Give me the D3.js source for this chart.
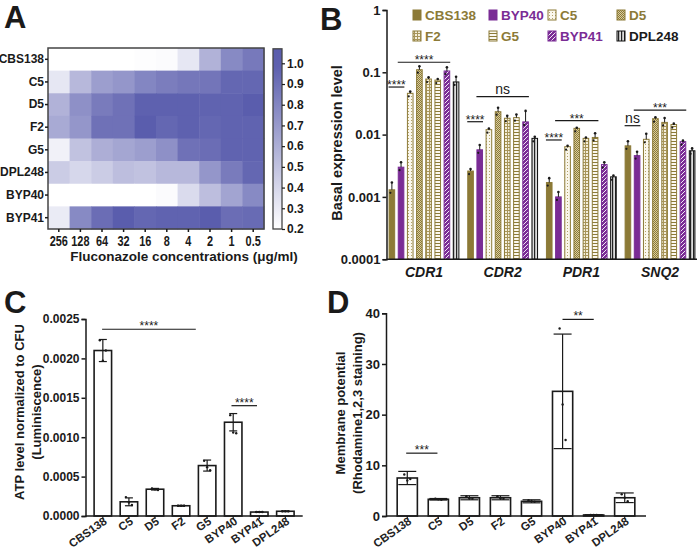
<!DOCTYPE html>
<html><head><meta charset="utf-8">
<script src="https://cdn.jsdelivr.net/npm/d3@7"></script>
<style>body{margin:0;background:#fff}svg text{font-family:"Liberation Sans",Arial,Helvetica,sans-serif}</style>
</head><body><svg id="c" width="700" height="551"></svg>
<script>
// ---------------- DATA ----------------
// Panel A heatmap
const strains = ["CBS138","C5","D5","F2","G5","DPL248","BYP40","BYP41"];
const concentrations = ["256","128","64","32","16","8","4","2","1","0.5"];
const heatCBS138 = [0.20,0.20,0.20,0.20,0.21,0.22,0.32,0.58,0.78,0.86];
const heatC5     = [0.32,0.55,0.68,0.72,0.80,0.84,0.87,0.88,0.95,0.95];
const heatD5     = [0.58,0.75,0.85,0.90,0.98,0.98,0.98,0.97,0.97,1.00];
const heatF2     = [0.62,0.72,0.90,0.90,1.00,0.95,0.98,0.95,0.97,0.97];
const heatG5     = [0.27,0.50,0.60,0.64,0.68,0.75,0.90,0.92,0.97,0.97];
const heatDPL248 = [0.45,0.40,0.45,0.52,0.50,0.55,0.55,0.72,0.85,0.95];
const heatBYP40  = [0.20,0.20,0.20,0.20,0.20,0.22,0.38,0.52,0.65,0.78];
const heatBYP41  = [0.30,0.78,0.92,1.00,0.95,0.97,0.97,1.00,0.92,0.93];
const colorbarTicks = [0.2,0.3,0.4,0.5,0.6,0.7,0.8,0.9,1.0];

// Panel B
const genes = ["CDR1","CDR2","PDR1","SNQ2"];
const seriesB = ["CBS138","BYP40","C5","D5","F2","G5","BYP41","DPL248"];
const exprCDR1 = [0.0013,0.0030,0.046,0.110,0.078,0.075,0.105,0.070];
const exprCDR2 = [0.0026,0.0057,0.0120,0.0233,0.0183,0.0187,0.0160,0.0087];
const exprPDR1 = [0.0017,0.0010,0.0064,0.0126,0.0087,0.0090,0.0033,0.0021];
const exprSNQ2 = [0.0066,0.0046,0.0084,0.0180,0.0157,0.0145,0.0077,0.0055];
const upperCDR1 = [0.0017,0.0036,0.049,0.125,0.083,0.078,0.120,0.085];
const upperCDR2 = [0.0028,0.0068,0.0125,0.027,0.020,0.021,0.024,0.0092];
const upperPDR1 = [0.0020,0.0012,0.0066,0.0129,0.0090,0.0105,0.0036,0.0022];
const upperSNQ2 = [0.0078,0.0053,0.0103,0.0190,0.0185,0.0150,0.0080,0.0060];
const bTicks = [1,0.1,0.01,0.001,0.0001];
const bTickLabels = ["1","0.1","0.01","0.001","0.0001"];
const bSig = [
  {gene:"CDR1", from:"CBS138", to:"BYP40", y:0.058, label:"****"},
  {gene:"CDR1", from:"BYP40", to:"BYP41", y:0.145, label:"****"},
  {gene:"CDR2", from:"CBS138", to:"BYP40", y:0.0161, label:"****"},
  {gene:"CDR2", from:"BYP40", to:"BYP41", y:0.0406, label:"ns"},
  {gene:"PDR1", from:"CBS138", to:"BYP40", y:0.0082, label:"****"},
  {gene:"PDR1", from:"BYP40", to:"G5", y:0.0167, label:"***"},
  {gene:"SNQ2", from:"CBS138", to:"BYP40", y:0.0139, label:"ns"},
  {gene:"SNQ2", from:"BYP40", to:"BYP41", y:0.0248, label:"***"}
];

// Panel C
const strainsCD = ["CBS138","C5","D5","F2","G5","BYP40","BYP41","DPL248"];
const atpMean = [0.00210,0.00018,0.00034,0.00013,0.00064,0.00119,0.00005,0.00006];
const atpSD   = [0.00014,0.00005,0.00001,0.000005,0.00007,0.00011,0.000004,0.000004];
const atpReps = [[0.00223,0.00197,0.00210],[0.00024,0.00017,0.00014],[0.00035,0.00034,0.00033],
                 [0.00013,0.00013,0.00013],[0.00070,0.00062,0.00058],[0.00128,0.00106,0.00105],
                 [0.00005,0.00005,0.00005],[0.00006,0.00006,0.00006]];
const cTicks = [0,0.0005,0.0010,0.0015,0.0020,0.0025];

// Panel D
const mpMean = [7.5,3.3,3.6,3.6,2.9,24.6,0.2,3.6];
const mpSD   = [1.3,0.15,0.4,0.4,0.3,11.3,0.05,0.95];
const mpReps = [[8.2,7.0,7.3],[3.4,3.3,3.2],[3.9,3.5,3.4],[3.9,3.5,3.4],[3.1,2.9,2.8],[37,22,15],[0.2,0.2,0.2],[4.3,3.6,2.9]];
const dTicks = [0,10,20,30,40];

// ---------------- DRAW ----------------
const svg = d3.select("#c");
const BLK = "#1a1a1a";
const OLIVE = "#8c7a37", PURPLE = "#7a2c95";

function panelLetter(t,x,y){svg.append("text").attr("x",x).attr("y",y).text(t)
  .attr("font-size",31).attr("font-weight","bold").attr("fill",BLK);}
panelLetter("A",4,28); panelLetter("B",320,30); panelLetter("C",4,313); panelLetter("D",327,313);

// ===== Panel A =====
const heatRows = {CBS138:heatCBS138,C5:heatC5,D5:heatD5,F2:heatF2,G5:heatG5,DPL248:heatDPL248,BYP40:heatBYP40,BYP41:heatBYP41};
const xA = d3.scaleBand().domain(concentrations).range([48,264]);
const yA = d3.scaleBand().domain(strains).range([48,229]);
const cA = d3.scaleLinear().domain([0.2,1.0]).range(["#ffffff","#5a5dad"]).interpolate(d3.interpolateRgb);
const cells = [];
strains.forEach(s=>heatRows[s].forEach((v,i)=>cells.push({s,c:concentrations[i],v})));
const gA = svg.append("g");
gA.selectAll("rect.cell").data(cells).join("rect").attr("class","cell")
  .attr("x",d=>xA(d.c)).attr("y",d=>yA(d.s)).attr("width",xA.bandwidth()+0.5).attr("height",yA.bandwidth()+0.5)
  .attr("fill",d=>cA(d.v));
gA.append("rect").attr("x",48).attr("y",48).attr("width",216).attr("height",181)
  .attr("fill","none").attr("stroke","#444").attr("stroke-width",1.5);
const axA = gA.append("g").attr("transform","translate(48,0)").call(d3.axisLeft(yA).tickSize(3).tickPadding(1));
axA.select(".domain").remove();
axA.selectAll("line").attr("stroke",BLK).attr("stroke-width",1.5);
axA.selectAll("text").attr("font-size",12).attr("font-weight","bold").attr("fill",BLK).style("font-family",'"Liberation Sans",Arial,sans-serif');
const axAx = gA.append("g").attr("transform","translate(0,229)").call(d3.axisBottom(xA).tickSize(3).tickPadding(4));
axAx.select(".domain").remove();
axAx.selectAll("line").attr("stroke",BLK).attr("stroke-width",1.5);
axAx.selectAll("text").attr("font-size",14).attr("font-weight","bold").attr("fill",BLK)
  .style("font-family",'"Liberation Sans",Arial,sans-serif')
  .attr("transform","scale(0.78,1)");
gA.append("text").attr("x",184).attr("y",261).attr("text-anchor","middle").attr("font-size",13.5).attr("font-weight","bold")
  .attr("fill",BLK).text("Fluconazole concentrations (μg/ml)");
// colorbar
const cy = d3.scaleLinear().domain([0.2,1.0]).range([229,63.3]);
const grad = svg.append("defs").append("linearGradient").attr("id","cbg").attr("x1",0).attr("y1",1).attr("x2",0).attr("y2",0);
const cbTop = 1.07;
d3.range(0,1.0001,0.1).forEach(t=>{const v=0.2+t*(cbTop-0.2);grad.append("stop").attr("offset",t).attr("stop-color",cA(Math.min(v,1.0)));});
gA.append("rect").attr("x",273).attr("y",cy(cbTop)).attr("width",9).attr("height",cy(0.2)-cy(cbTop))
  .attr("fill","url(#cbg)").attr("stroke","#444").attr("stroke-width",1.3);
const axCb = gA.append("g").attr("transform","translate(282,0)").call(d3.axisRight(cy).tickValues(colorbarTicks).tickFormat(d3.format(".1f")).tickSize(3).tickPadding(2));
axCb.select(".domain").remove();
axCb.selectAll("line").attr("stroke",BLK).attr("stroke-width",1.2);
axCb.selectAll("text").attr("font-size",12).attr("font-weight","bold").attr("fill",BLK).style("font-family",'"Liberation Sans",Arial,sans-serif');

// ===== Panel B =====
const defs = svg.append("defs");
function pat(id,w,h,bg,draw){const p=defs.append("pattern").attr("id",id).attr("width",w).attr("height",h).attr("patternUnits","userSpaceOnUse");
  p.append("rect").attr("width",w).attr("height",h).attr("fill",bg); draw(p);}
pat("pC5",3,3,"#faf7ec",p=>p.append("rect").attr("width",1).attr("height",1).attr("fill","#b3a26a"));
pat("pD5",2,2,"#d8cca0",p=>{p.append("rect").attr("width",1).attr("height",1).attr("fill",OLIVE);p.append("rect").attr("x",1).attr("y",1).attr("width",1).attr("height",1).attr("fill",OLIVE);});
pat("pF2",3,3,"#f3eedb",p=>{p.append("rect").attr("width",3).attr("height",1).attr("fill","#a8955a");p.append("rect").attr("width",1).attr("height",3).attr("fill","#a8955a");});
pat("pG5",3,3,"#fbf8ef",p=>p.append("rect").attr("width",3).attr("height",1).attr("fill",OLIVE));
pat("pBYP41",4,4,PURPLE,p=>p.append("path").attr("d","M-1,1 L1,-1 M0,4 L4,0 M3,5 L5,3").attr("stroke","#fff").attr("stroke-width",0.9));
pat("pDPL",3,3,"#dcdcdc",p=>p.append("rect").attr("width",1.2).attr("height",3).attr("fill","#222"));
const fills = {CBS138:OLIVE,BYP40:PURPLE,C5:"url(#pC5)",D5:"url(#pD5)",F2:"url(#pF2)",G5:"url(#pG5)",BYP41:"url(#pBYP41)",DPL248:"url(#pDPL)"};
const strokes = {CBS138:OLIVE,BYP40:PURPLE,C5:OLIVE,D5:OLIVE,F2:OLIVE,G5:OLIVE,BYP41:PURPLE,DPL248:"#111"};
const textCols = {CBS138:OLIVE,BYP40:PURPLE,C5:OLIVE,D5:OLIVE,F2:OLIVE,G5:OLIVE,BYP41:PURPLE,DPL248:BLK};
const exprBy = {CDR1:exprCDR1,CDR2:exprCDR2,PDR1:exprPDR1,SNQ2:exprSNQ2};
const upperBy = {CDR1:upperCDR1,CDR2:upperCDR2,PDR1:upperPDR1,SNQ2:upperSNQ2};
const xB = d3.scaleBand().domain(genes).range([387,697]).paddingInner(0.1).paddingOuter(0.02);
const xBi = d3.scaleBand().domain(seriesB).range([0,xB.bandwidth()]).paddingInner(0.28);
const yB = d3.scaleLog().domain([0.0001,1]).range([259.2,10]);
const gB = svg.append("g");
const bData = [];
genes.forEach(g=>seriesB.forEach((s,i)=>bData.push({g,s,v:exprBy[g][i],u:upperBy[g][i]})));
gB.selectAll("rect.bar").data(bData).join("rect").attr("class","bar")
  .attr("x",d=>xB(d.g)+xBi(d.s)+0.5).attr("width",xBi.bandwidth()-1)
  .attr("y",d=>yB(d.v)).attr("height",d=>yB(0.0001)-yB(d.v))
  .attr("fill",d=>fills[d.s]).attr("stroke",d=>strokes[d.s]).attr("stroke-width",1);
gB.selectAll("line.err").data(bData).join("line").attr("class","err")
  .attr("x1",d=>xB(d.g)+xBi(d.s)+xBi.bandwidth()/2).attr("x2",d=>xB(d.g)+xBi(d.s)+xBi.bandwidth()/2)
  .attr("y1",d=>yB(d.v)).attr("y2",d=>yB(d.u)).attr("stroke",BLK).attr("stroke-width",1);
gB.selectAll("circle.tip").data(bData).join("circle").attr("class","tip")
  .attr("cx",d=>xB(d.g)+xBi(d.s)+xBi.bandwidth()/2).attr("cy",d=>yB(d.u)).attr("r",1.3).attr("fill",BLK);
gB.selectAll("circle.mid").data(bData).join("circle").attr("class","mid")
  .attr("cx",d=>xB(d.g)+xBi(d.s)+xBi.bandwidth()/2-1.5).attr("cy",d=>yB(d.v)+3).attr("r",1.1).attr("fill",BLK);
const axB = gB.append("g").attr("transform","translate(386.5,0)")
  .call(d3.axisLeft(yB).tickValues(bTicks).tickFormat((d,i)=>bTickLabels[i]).tickSize(4).tickPadding(2));
axB.select(".domain").attr("stroke",BLK).attr("stroke-width",1.5);
axB.selectAll("line").attr("stroke",BLK).attr("stroke-width",1.5);
axB.selectAll("text").attr("font-size",13).attr("font-weight","bold").attr("fill",BLK).style("font-family",'"Liberation Sans",Arial,sans-serif');
gB.append("line").attr("x1",386.5).attr("x2",697).attr("y1",yB(0.0001)).attr("y2",yB(0.0001)).attr("stroke",BLK).attr("stroke-width",1.5);
gB.selectAll("text.gene").data(genes).join("text").attr("class","gene")
  .attr("x",d=>xB(d)+xB.bandwidth()/2).attr("y",277).attr("text-anchor","middle")
  .attr("font-size",14).attr("font-weight","bold").attr("font-style","italic").attr("fill",BLK).text(d=>d);
gB.append("text").attr("transform","translate(342,143) rotate(-90)").attr("text-anchor","middle")
  .attr("font-size",14.5).attr("font-weight","bold").attr("fill",BLK).text("Basal expression level");
// significance
bSig.forEach(b=>{
  const x1 = xB(b.gene)+xBi(b.from), x2 = xB(b.gene)+xBi(b.to)+xBi.bandwidth();
  const yy = yB(b.y);
  gB.append("line").attr("x1",x1).attr("x2",x2).attr("y1",yy).attr("y2",yy).attr("stroke",BLK).attr("stroke-width",1.2);
  gB.append("text").attr("x",(x1+x2)/2).attr("y",b.label==="ns"?yy-3:yy+2).attr("text-anchor","middle")
    .attr("font-size",b.label==="ns"?14:12).attr("fill",BLK).text(b.label);
});
// legend
const legX = [413,489,548,617];
seriesB.forEach((s,i)=>{
  const col=i%4,row=Math.floor(i/4);
  const lx=legX[col], ly=15+row*21;
  gB.append("rect").attr("x",lx).attr("y",ly-5).attr("width",8).attr("height",10)
    .attr("fill",fills[s]).attr("stroke",strokes[s]).attr("stroke-width",1);
  gB.append("text").attr("x",lx+12).attr("y",ly+5).attr("font-size",13.5).attr("font-weight","bold")
    .attr("fill",textCols[s]).text(s);
});

// ===== Panels C & D =====
function barPanel(opts){
  const g = svg.append("g");
  const x = d3.scaleBand().domain(strainsCD).range([opts.x0,opts.x1]).paddingInner(opts.pi).paddingOuter(opts.po);
  const y = d3.scaleLinear().domain(opts.dom).range([516,opts.yTop]);
  const data = strainsCD.map((s,i)=>({s,m:opts.mean[i],sd:opts.sd[i],reps:opts.reps[i]}));
  g.selectAll("rect").data(data).join("rect").attr("x",d=>x(d.s)).attr("width",x.bandwidth())
    .attr("y",d=>y(d.m)).attr("height",d=>y(0)-y(d.m)).attr("fill","#fff").attr("stroke",BLK).attr("stroke-width",1.6);
  const cx = d=>x(d.s)+x.bandwidth()/2;
  g.selectAll("line.e").data(data).join("line").attr("class","e").attr("x1",cx).attr("x2",cx)
    .attr("y1",d=>y(d.m-d.sd)).attr("y2",d=>y(d.m+d.sd)).attr("stroke",BLK).attr("stroke-width",1.2);
  ["-","+"].forEach(sg=>{
    g.selectAll("line.c"+(sg==="-"?"l":"u")).data(data).join("line").attr("class","c"+(sg==="-"?"l":"u"))
      .attr("x1",d=>cx(d)-opts.cap).attr("x2",d=>cx(d)+opts.cap)
      .attr("y1",d=>y(sg==="-"?d.m-d.sd:d.m+d.sd)).attr("y2",d=>y(sg==="-"?d.m-d.sd:d.m+d.sd))
      .attr("stroke",BLK).attr("stroke-width",1.2);
  });
  const dots=[]; data.forEach(d=>d.reps.forEach((r,k)=>dots.push({s:d.s,v:r,k})));
  const off=[-3,0,3];
  g.selectAll("circle").data(dots).join("circle").attr("cx",d=>x(d.s)+x.bandwidth()/2+off[d.k]).attr("cy",d=>y(d.v))
    .attr("r",1.2).attr("fill",BLK);
  const ay = g.append("g").attr("transform",`translate(${opts.x0},0)`)
    .call(d3.axisLeft(y).tickValues(opts.ticks).tickFormat(opts.fmt).tickSize(4).tickPadding(2));
  ay.select(".domain").attr("stroke",BLK).attr("stroke-width",1.5);
  ay.selectAll("line").attr("stroke",BLK).attr("stroke-width",1.5);
  ay.selectAll("text").attr("font-size",opts.tfs).attr("font-weight","bold").attr("fill",BLK).style("font-family",'"Liberation Sans",Arial,sans-serif');
  const ax = g.append("g").attr("transform","translate(0,516)").call(d3.axisBottom(x).tickSize(3).tickFormat(""));
  ax.select(".domain").attr("d",`M${opts.x0},0H${opts.x1}`).attr("stroke",BLK).attr("stroke-width",1.5);
  ax.selectAll("line").attr("stroke",BLK).attr("stroke-width",1.2);
  g.selectAll("text.xl").data(strainsCD).join("text").attr("class","xl")
    .attr("transform",d=>`translate(${x(d)+x.bandwidth()/2+5},${523}) rotate(-35)`)
    .attr("text-anchor","end").attr("font-size",11.5).attr("font-weight","bold").attr("fill","#222").text(d=>d);
  opts.ylab.forEach((t,i)=>g.append("text").attr("transform",`translate(${opts.ylx[i]},${opts.yly}) rotate(-90)`)
    .attr("text-anchor","middle").attr("font-size",13).attr("font-weight","bold").attr("fill",BLK).text(t));
  opts.sig.forEach(b=>{
    const x1=x(b.from)+(b.fo||0), x2=x(b.to)+x.bandwidth()+(b.to2||0), yy=y(b.y);
    g.append("line").attr("x1",x1).attr("x2",x2).attr("y1",yy).attr("y2",yy).attr("stroke",BLK).attr("stroke-width",1.2);
    g.append("text").attr("x",(x1+x2)/2).attr("y",yy+1).attr("text-anchor","middle").attr("font-size",12).attr("fill",BLK).text(b.label);
  });
}
barPanel({x0:85.5,x1:302.7,pi:0.33,po:0.33,dom:[0,0.0025],yTop:319,mean:atpMean,sd:atpSD,reps:atpReps,
  ticks:cTicks,fmt:d3.format(".4f"),tfs:12,cap:4,
  ylab:["ATP level normalized to CFU","(Luminiscence)"],ylx:[24,41],yly:412,
  sig:[{from:"CBS138",to:"F2",y:0.00237,label:"****",fo:8,to2:6},{from:"BYP40",to:"BYP41",y:0.00140,label:"****",fo:7,to2:-11}]});
barPanel({x0:386,x1:646,pi:0.35,po:0.36,dom:[0,40],yTop:313.3,mean:mpMean,sd:mpSD,reps:mpReps,
  ticks:dTicks,fmt:d3.format("d"),tfs:13,cap:9,
  ylab:["Membrane potential","(Rhodamine1,2,3 staining)"],ylx:[345,362],yly:413,
  sig:[{from:"CBS138",to:"C5",y:12.4,label:"***",fo:9,to2:-11},{from:"BYP40",to:"BYP41",y:38.8,label:"**",fo:10,to2:-10}]});
</script></body></html>
